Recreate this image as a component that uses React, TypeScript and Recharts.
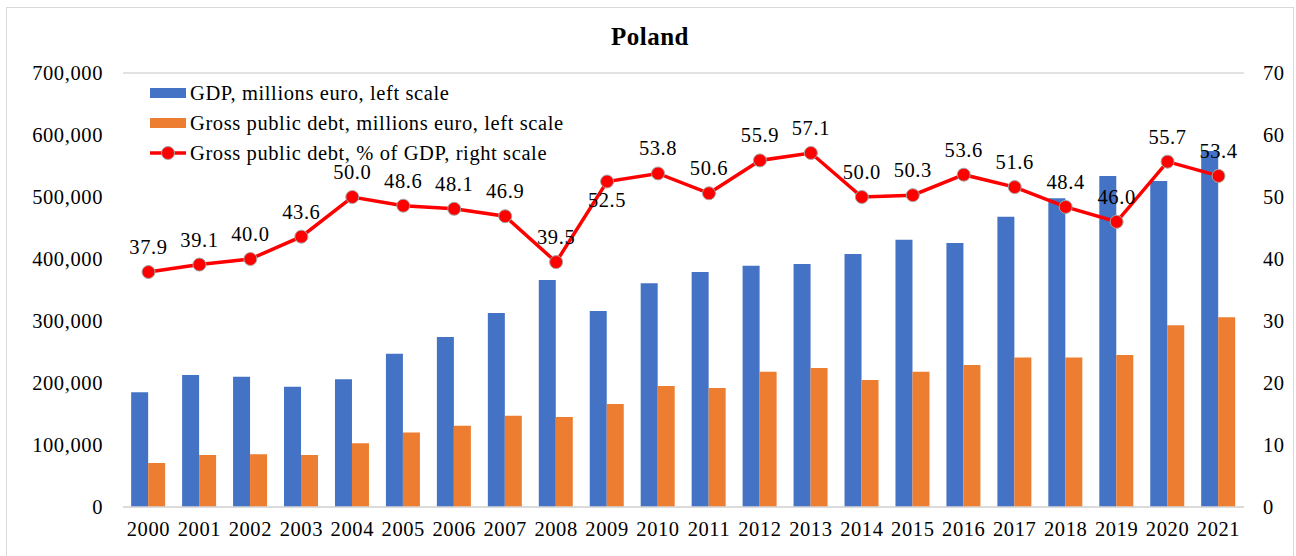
import { ComposedChart, Bar, Line, XAxis, YAxis, CartesianGrid, LabelList } from 'recharts'

// Poland: GDP and gross public debt (millions euro, left) and debt ratio (% of GDP, right)
const years = ['2000', '2001', '2002', '2003', '2004', '2005', '2006', '2007', '2008', '2009', '2010',
  '2011', '2012', '2013', '2014', '2015', '2016', '2017', '2018', '2019', '2020', '2021']
const gdp = [185000, 213000, 210000, 194000, 206000, 247000, 274000, 313000, 366000, 316000, 361000,
  379000, 389000, 392000, 408000, 431000, 426000, 468000, 498000, 534000, 526000, 574000]
const debt = [71000, 84000, 85000, 84000, 103000, 120000, 131000, 147000, 145000, 166000, 195000,
  192000, 218000, 224000, 205000, 218000, 229000, 241000, 241000, 245000, 293000, 306000]
const debtPct = [37.9, 39.1, 40.0, 43.6, 50.0, 48.6, 48.1, 46.9, 39.5, 52.5, 53.8,
  50.6, 55.9, 57.1, 50.0, 50.3, 53.6, 51.6, 48.4, 46.0, 55.7, 53.4]
const leftTicks = [0, 100000, 200000, 300000, 400000, 500000, 600000, 700000]
const rightTicks = [0, 10, 20, 30, 40, 50, 60, 70]
// years whose label Excel put under the marker
const labelBelow = ['2009']

const data = years.map((year, i) => ({ year, gdp: gdp[i], debt: debt[i], pct: debtPct[i] }))

const FONT = '"Liberation Serif", "Times New Roman", serif'
const BLUE = '#4472C4'
const ORANGE = '#ED7D31'
const RED = '#FF0000'
const GRID = '#D9D9D9'
const FS = 20.5
const LS = 0.6
const tick = { fill: '#000', fontSize: FS, fontFamily: FONT, letterSpacing: LS }

function Dot(props: any) {
  const { cx, cy } = props
  if (cx == null || cy == null) return null
  return <circle cx={cx} cy={cy} r={6.5} fill={RED} stroke="#A6A6A6" strokeWidth={1} />
}

function PctLabel(props: any) {
  const { x, y, value, index } = props
  const below = labelBelow.includes(years[index])
  return (
    <text x={x} y={below ? y + 25 : y - 18} textAnchor="middle" fontSize={FS} fontFamily={FONT}
      letterSpacing={LS} fill="#000">
      {Number(value).toFixed(1)}
    </text>
  )
}

function LegendBox() {
  const row = { display: 'flex', alignItems: 'center', height: 30 }
  const text = { fontFamily: FONT, fontSize: FS, letterSpacing: LS, color: '#000', marginLeft: 4, whiteSpace: 'nowrap' as const }
  return (
    <div style={{ position: 'absolute', left: 143, top: 70 }}>
      <div style={row}><span style={{ width: 36, height: 10, background: BLUE }} /><span style={text}>GDP, millions euro, left scale</span></div>
      <div style={row}><span style={{ width: 36, height: 10, background: ORANGE }} /><span style={text}>Gross public debt, millions euro, left scale</span></div>
      <div style={row}>
        <svg width={36} height={16}>
          <line x1={0} y1={8} x2={36} y2={8} stroke={RED} strokeWidth={3.5} />
          <circle cx={18} cy={8} r={6.5} fill={RED} stroke="#A6A6A6" strokeWidth={1} />
        </svg>
        <span style={text}>Gross public debt, % of GDP, right scale</span>
      </div>
    </div>
  )
}

export default function App() {
  return (
    <div style={{ position: 'absolute', left: 6, top: 7, width: 1288, height: 560, border: `1px solid ${GRID}`, boxSizing: 'border-box', background: '#fff' }}>
      <div style={{ position: 'absolute', left: 0, right: 0, top: 17, lineHeight: '24px', textAlign: 'center', fontFamily: FONT, fontSize: 25, letterSpacing: 0.5, fontWeight: 'bold' }}>
        Poland
      </div>
      <ComposedChart width={1286} height={548} data={data} margin={{ top: 65, right: 0, bottom: 9, left: 0 }}
        barCategoryGap="16%" barGap={0}>
        <CartesianGrid stroke={GRID} strokeWidth={1.5} vertical={false} />
        <XAxis dataKey="year" tick={tick} tickLine={false} axisLine={{ stroke: GRID, strokeWidth: 1.5 }} tickSize={0} tickMargin={14} height={40} interval={0} />
        <YAxis yAxisId="left" width={116} domain={[0, 700000]} ticks={leftTicks} tick={tick} tickLine={false} axisLine={false}
          tickSize={0} tickMargin={20} tickFormatter={(v: number) => v.toLocaleString('en-US')} />
        <YAxis yAxisId="right" orientation="right" width={49} domain={[0, 70]} ticks={rightTicks} tick={{ ...tick, textAnchor: 'start' }}
          tickLine={false} axisLine={false} tickSize={0} tickMargin={19} />
        <Bar yAxisId="left" dataKey="gdp" name="GDP, millions euro, left scale" fill={BLUE} isAnimationActive={false} />
        <Bar yAxisId="left" dataKey="debt" name="Gross public debt, millions euro, left scale" fill={ORANGE} isAnimationActive={false} />
        <Line yAxisId="right" dataKey="pct" name="Gross public debt, % of GDP, right scale" stroke={RED} strokeWidth={3.5}
          dot={<Dot />} activeDot={false} isAnimationActive={false}>
          <LabelList dataKey="pct" content={<PctLabel />} />
        </Line>
      </ComposedChart>
      <LegendBox />
    </div>
  )
}
